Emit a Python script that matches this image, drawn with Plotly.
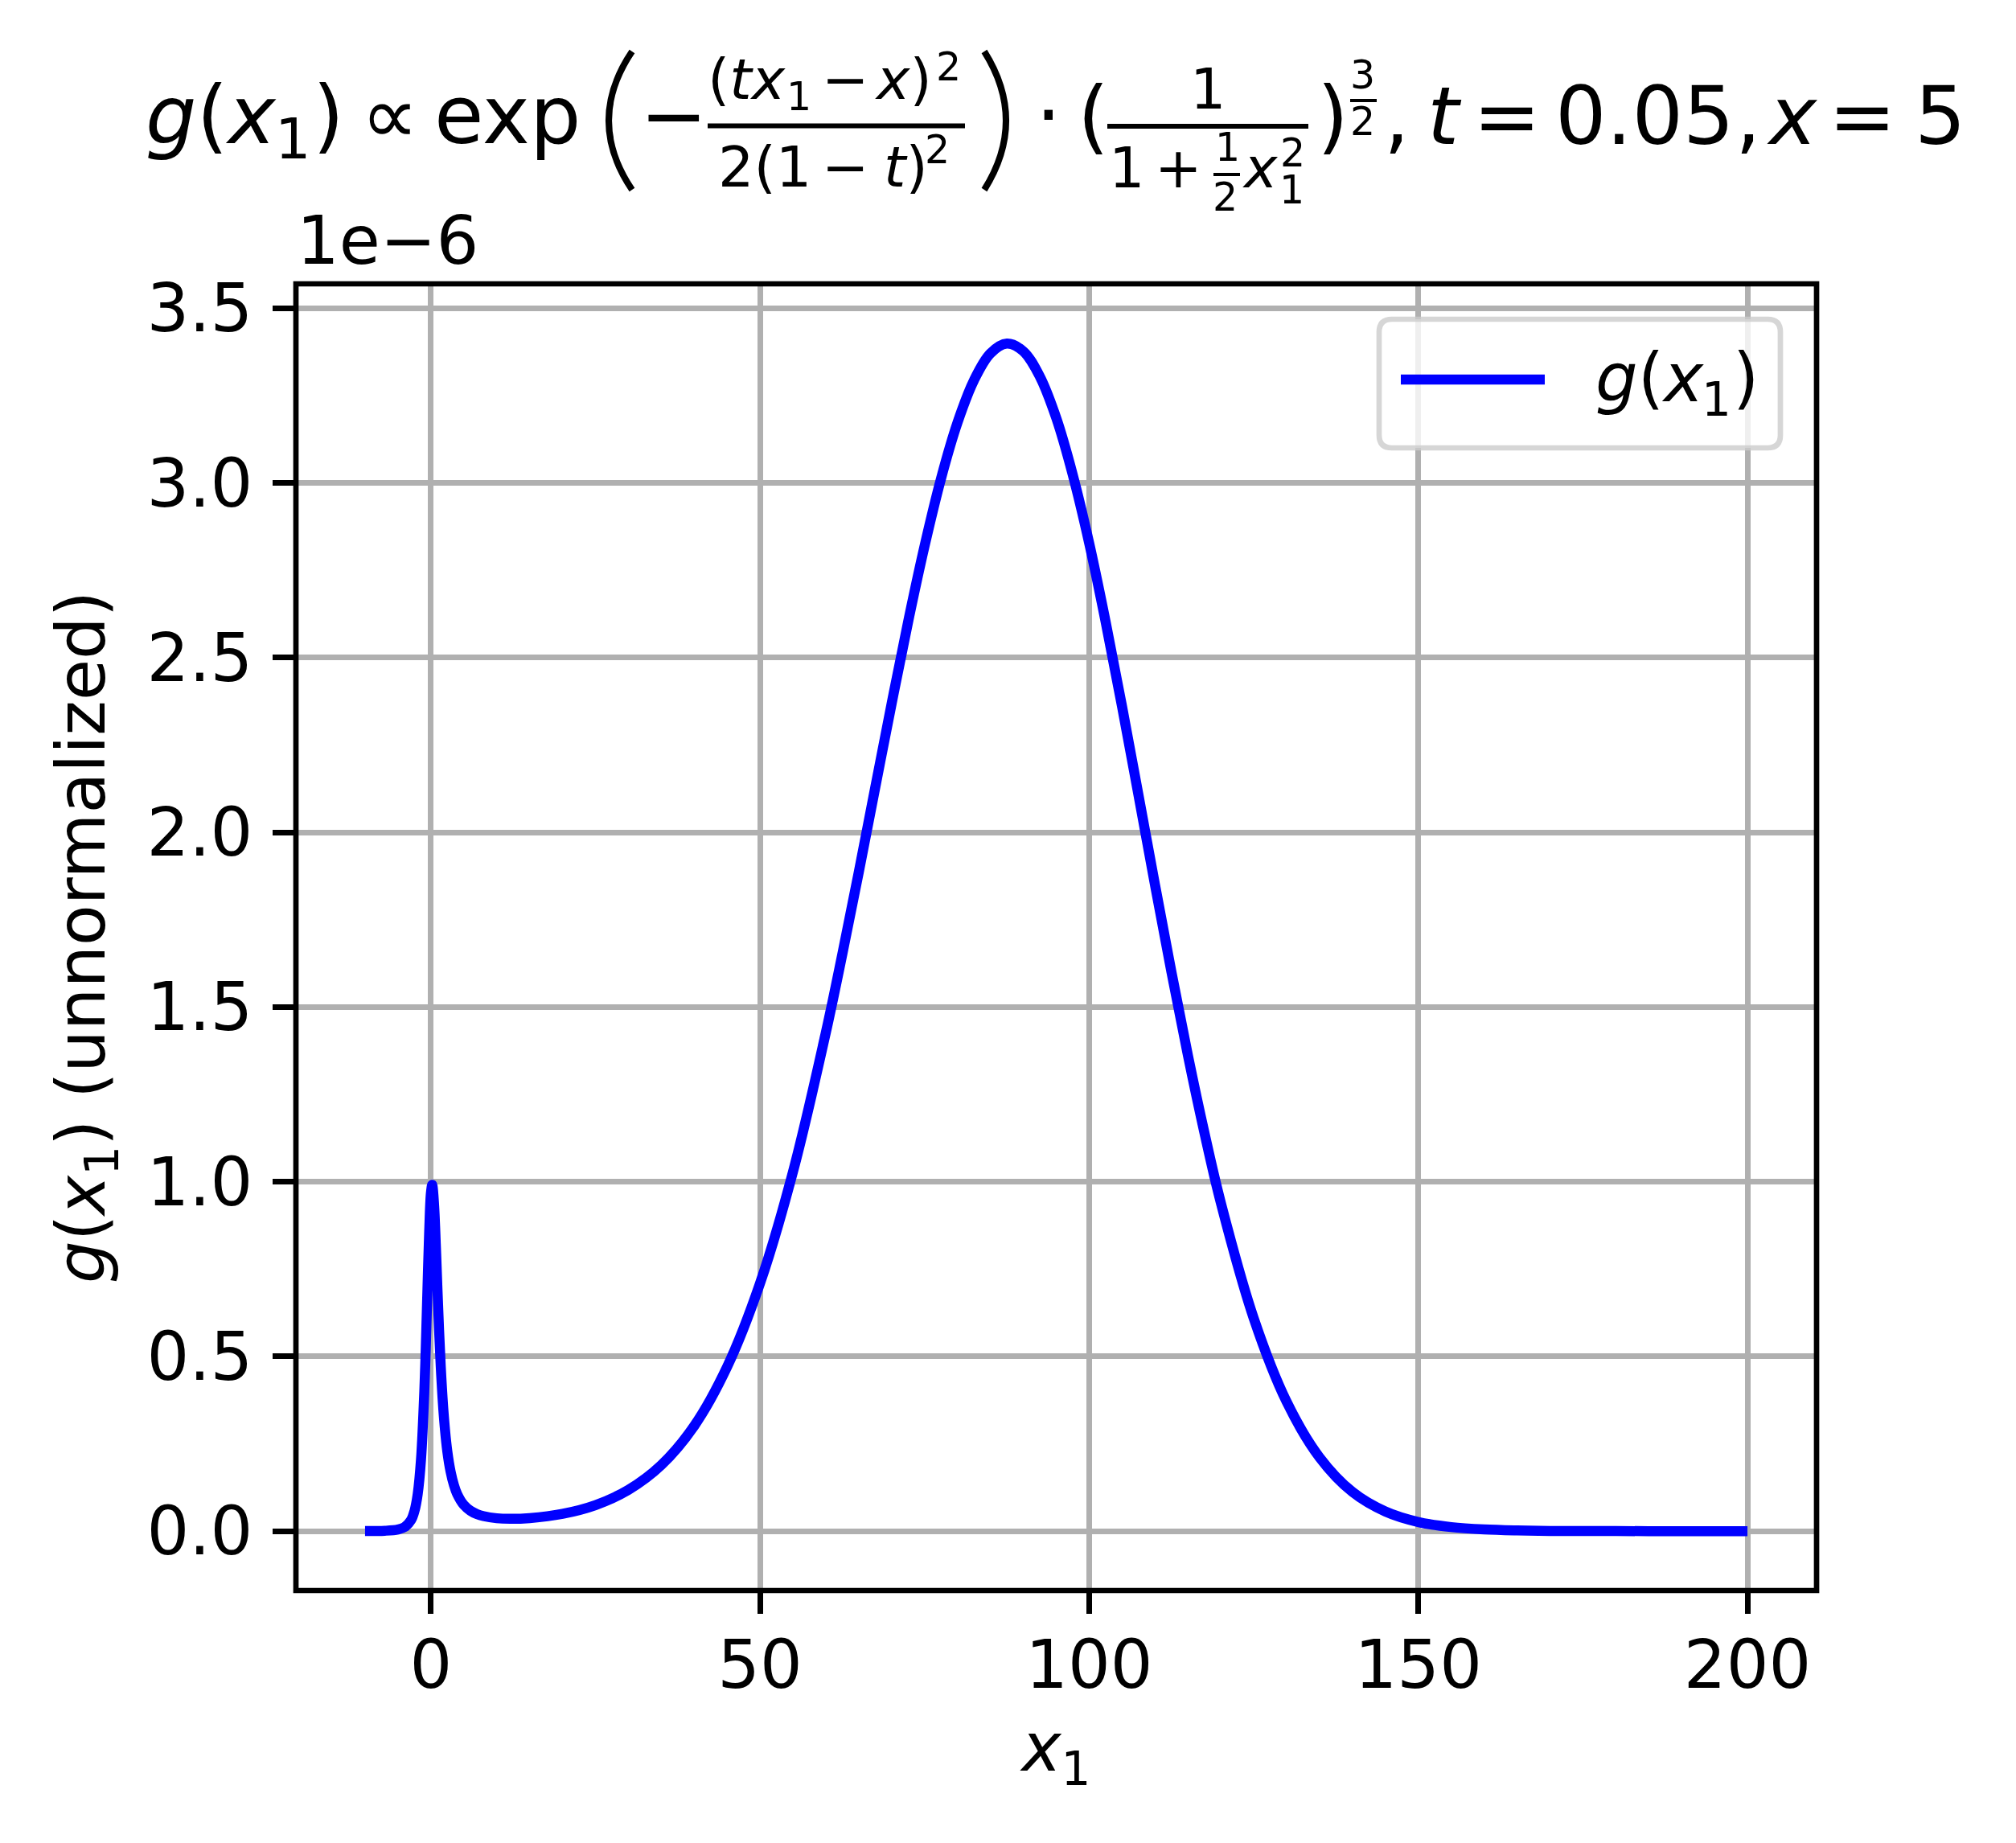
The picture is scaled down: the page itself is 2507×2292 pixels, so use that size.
import plotly.graph_objects as go

# ---------------- data ----------------
x1_values = [-10, -7, -5, -4, -3, -2.5, -2, -1.5, -1, -0.75, -0.5, -0.25, 0, 0.2, 0.25,
             0.5, 0.75, 1, 1.5, 2, 2.5, 3, 3.5, 4, 5, 6, 7, 8, 10, 12, 15, 20, 25, 30,
             35, 40, 45, 50, 55, 60, 62.5, 65, 67.5, 70, 72.5, 75, 77.5, 80, 82.5, 85,
             87.5, 90, 92.5, 95, 97.5, 100, 102.5, 105, 107.5, 110, 112.5, 115, 117.5,
             120, 125, 130, 135, 140, 145, 150, 155, 160, 165, 170, 180, 190, 200]
# g(x1) in units of 1e-6 (unnormalized)
g_values_e6 = [0.0001, 0.001, 0.0047, 0.0115, 0.032, 0.057, 0.106, 0.205, 0.398, 0.541,
               0.705, 0.860, 0.966, 0.991, 0.988, 0.930, 0.819, 0.692, 0.471, 0.322,
               0.228, 0.170, 0.132, 0.106, 0.075, 0.0585, 0.0487, 0.0428, 0.0368,
               0.0352, 0.0373, 0.0496, 0.0745, 0.118, 0.189, 0.301, 0.470, 0.709,
               1.028, 1.427, 1.651, 1.886, 2.128, 2.369, 2.603, 2.820, 3.013, 3.173,
               3.294, 3.371, 3.399, 3.377, 3.305, 3.186, 3.024, 2.828, 2.603, 2.360,
               2.106, 1.850, 1.600, 1.362, 1.141, 0.940, 0.609, 0.370, 0.211, 0.112,
               0.056, 0.026, 0.0115, 0.0047, 0.0018, 0.0006, 0.00007, 0.000006, 0.0]

x_tick_values = [0, 50, 100, 150, 200]
x_tick_labels = ["0", "50", "100", "150", "200"]
y_tick_values = [0.0, 0.5, 1.0, 1.5, 2.0, 2.5, 3.0, 3.5]
y_tick_labels = ["0.0", "0.5", "1.0", "1.5", "2.0", "2.5", "3.0", "3.5"]
x_range = [-20.5, 210.5]
y_range = [-0.17, 3.57]

# ---------------- layout helpers ----------------
W, H = 2507, 2292
L, R, T, B = 368, 2259, 353, 1978   # plot area as seen on the page
OFF = 8                              # page body margin
FONT = "DejaVu Sans"


def px(xp):
    return (xp - L) / (R - L)


def py(yp):
    return (B - yp) / (B - T)


annotations = []
shapes = []


def text(s, cx, base, size, anchor="center"):
    annotations.append(dict(
        text=s, x=px(cx), y=py(base - 0.346 * size), xref="paper", yref="paper",
        xanchor=anchor, yanchor="middle", showarrow=False, borderpad=0,
        font=dict(family=FONT, size=size, color="black")))


def bar(x0, x1, y, w):
    shapes.append(dict(type="line", xref="paper", yref="paper", layer="above",
                       x0=px(x0), x1=px(x1), y0=py(y), y1=py(y),
                       line=dict(color="black", width=w)))


def paren(xtip, xmid, y0, y1, w):
    c = 2 * xmid - xtip
    path = (f"M {px(xtip)},{py(y0)} Q {px(c)},{py((y0 + y1) / 2)} "
            f"{px(xtip)},{py(y1)}")
    shapes.append(dict(type="path", xref="paper", yref="paper", layer="above",
                       path=path, line=dict(color="black", width=w)))


# ---------------- title (mathtext emulation) ----------------
S, s, ss = 100, 70, 49
text("<i>g</i>(<i>x</i>", 263, 178, S)
text("1", 364, 197, s)
text(")", 408.5, 178, S)
text("\u221d", 484, 178, S)
text("exp", 631, 178, S)
paren(786, 757, 64, 236, 8)
text("\u2212", 838, 178, S)
# first fraction
text("(<i>tx</i>", 928.5, 123, s)
text("1", 993, 137, ss)
text("\u2212", 1051.5, 123, s)
text("<i>x</i>)", 1123.5, 123, s)
text("2", 1179.5, 100, ss)
bar(880, 1200, 156.5, 6)
text("2(1", 950.5, 232, s)
text("\u2212", 1051.5, 232, s)
text("<i>t</i>)", 1126.5, 232, s)
text("2", 1165.5, 203, ss)
paren(1224, 1251, 64, 236, 8)
text("\u00b7", 1304, 178, S)
# second fraction
text("(", 1359, 179, S)
text("1", 1502, 135, s)
bar(1377, 1627, 157, 6)
text("1", 1401, 233, s)
text("+", 1465.5, 233, s)
text("1", 1526, 200, ss)
bar(1509, 1542, 217, 4)
text("2", 1523.5, 262, ss)
text("<i>x</i>", 1566.5, 233, s)
text("2", 1607.5, 207, ss)
text("1", 1606.5, 253, ss)
text(")", 1657.5, 179, S)
text("3", 1694.5, 110, ss)
bar(1679, 1712, 125, 4)
text("2", 1694.5, 168, ss)
# tail
text(",", 1737, 179, S)
text("<i>t</i>", 1796, 179, S)
text("=", 1873.5, 179, S)
text("0.05", 2045, 179, S)
text(",", 2173.5, 179, S)
text("<i>x</i>", 2229, 179, S)
text("=", 2316, 179, S)
text("5", 2413, 179, S)

# offset text
text("1e\u22126", 368, 328, 83, anchor="left")

# ---------------- axes frame (spines centred on the plot edge) ----------------
shapes.append(dict(type="rect", xref="paper", yref="paper", layer="above",
                   x0=0, x1=1, y0=0, y1=1, fillcolor="rgba(0,0,0,0)",
                   line=dict(color="black", width=6.7)))

# ---------------- legend (matplotlib style) ----------------
lx0, lx1, ly0, ly1, rr = 1715, 2214, 397, 557, 16
legend_path = (
    f"M {px(lx0 + rr)},{py(ly0)} L {px(lx1 - rr)},{py(ly0)} "
    f"Q {px(lx1)},{py(ly0)} {px(lx1)},{py(ly0 + rr)} "
    f"L {px(lx1)},{py(ly1 - rr)} Q {px(lx1)},{py(ly1)} {px(lx1 - rr)},{py(ly1)} "
    f"L {px(lx0 + rr)},{py(ly1)} Q {px(lx0)},{py(ly1)} {px(lx0)},{py(ly1 - rr)} "
    f"L {px(lx0)},{py(ly0 + rr)} Q {px(lx0)},{py(ly0)} {px(lx0 + rr)},{py(ly0)} Z")
shapes.append(dict(type="path", xref="paper", yref="paper", layer="above",
                   path=legend_path, fillcolor="rgba(255,255,255,0.8)",
                   line=dict(color="rgba(204,204,204,0.8)", width=6.7)))
shapes.append(dict(type="line", xref="paper", yref="paper", layer="above",
                   x0=px(1742), x1=px(1921), y0=py(472), y1=py(472),
                   line=dict(color="#0000ff", width=12.5)))
text("<i>g</i>(<i>x</i>", 2051, 499, 83)
text("1", 2134.5, 517, 58)
text(")", 2171, 499, 83)

# ---------------- figure ----------------
fig = go.Figure()
fig.add_trace(go.Scatter(
    x=x1_values, y=g_values_e6, mode="lines", name="g(x1)",
    line=dict(color="#0000ff", width=12.5, shape="spline", smoothing=1),
    showlegend=False))

axis_common = dict(
    ticks="outside", ticklen=28, tickwidth=6.7, tickcolor="black",
    showline=False, zeroline=False,
    showgrid=True, gridcolor="#b0b0b0", gridwidth=6.5,
    tickfont=dict(family=FONT, size=83, color="black"))

fig.update_layout(
    width=W, height=H,
    margin=dict(l=L - OFF, r=W - (R - OFF), t=T - OFF, b=H - (B - OFF),
                autoexpand=False),
    paper_bgcolor="white", plot_bgcolor="white",
    font=dict(family=FONT, color="black"),
    showlegend=False,
    xaxis=dict(range=x_range, tickvals=x_tick_values, ticktext=x_tick_labels,
               ticklabelstandoff=-8,
               title=dict(text="<i>x</i><sub>1</sub>", standoff=26,
                          font=dict(family=FONT, size=83, color="black")),
               **axis_common),
    yaxis=dict(range=y_range, tickvals=y_tick_values, ticktext=y_tick_labels,
               ticklabelstandoff=8,
               title=dict(text="<i>g</i>(<i>x</i><sub>1</sub>) (unnormalized)",
                          standoff=24,
                          font=dict(family=FONT, size=83, color="black")),
               **axis_common),
    annotations=annotations,
    shapes=shapes,
)

fig.write_html("out.html")
